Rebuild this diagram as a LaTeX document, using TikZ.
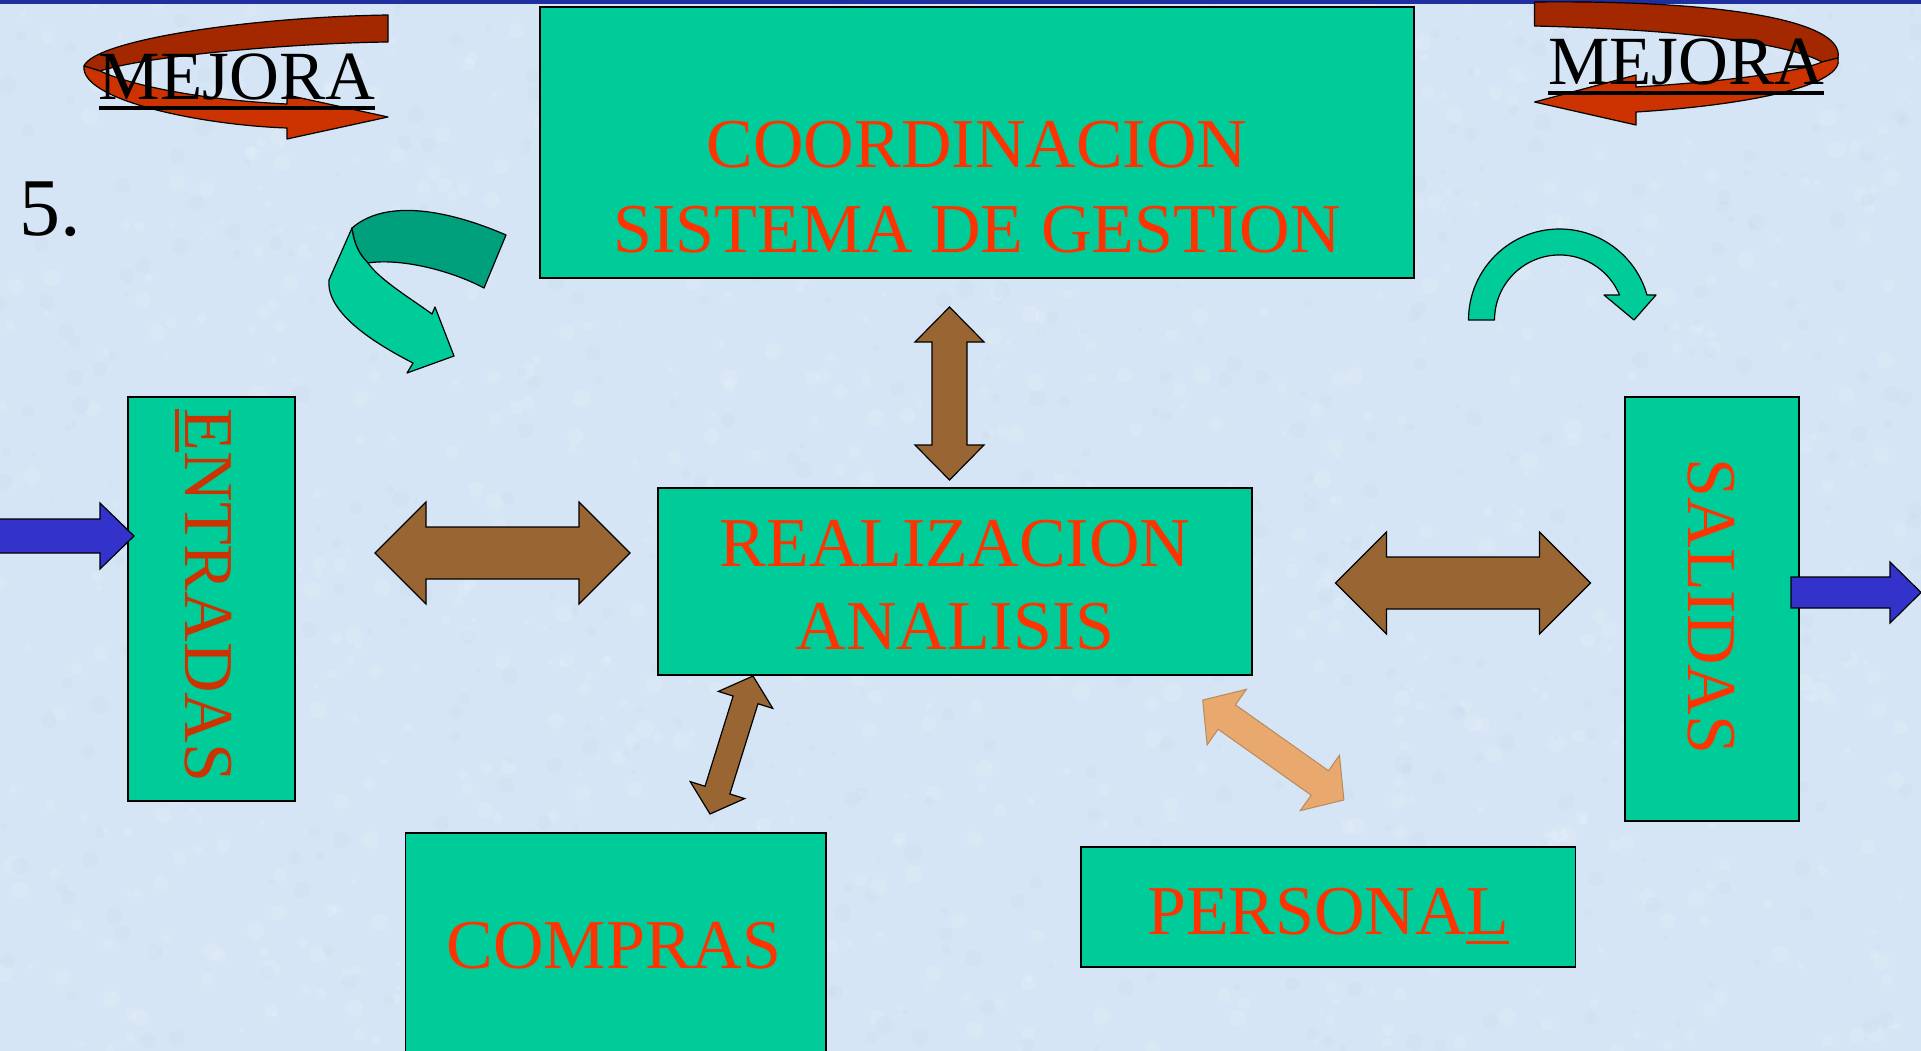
\documentclass[tikz,border=0pt]{standalone}
\usepackage{fontspec}
\setmainfont{Liberation Serif}
\usetikzlibrary{calc}
\definecolor{bg}{HTML}{D6E5F5}
\definecolor{bgdark}{HTML}{BCD2EC}
\definecolor{topbar}{HTML}{1F2F9F}
\definecolor{boxgreen}{HTML}{00CC99}
\definecolor{darkgreen}{HTML}{00A07C}
\definecolor{txtred}{HTML}{FF3300}
\definecolor{txtdark}{HTML}{CC3300}
\definecolor{brownarr}{HTML}{996633}
\definecolor{peach}{HTML}{E8A86E}
\definecolor{peachline}{HTML}{B88A5E}
\definecolor{bluearr}{HTML}{3333CC}
\definecolor{mejdark}{HTML}{A32800}
\definecolor{mejlight}{HTML}{CC3300}
\newcommand\ulx[1]{\setbox0\hbox{#1}\rlap{\rule[-10pt]{\wd0}{3.5pt}}\box0}
\tikzset{
  pics/dblarrow/.style n args={4}{code={
    \path[pic actions] ({-#1/2},0) -- ({-#1/2+#4},{#2}) -- ({-#1/2+#4},{#3}) -- ({#1/2-#4},{#3}) -- ({#1/2-#4},{#2}) -- ({#1/2},0) -- ({#1/2-#4},{-#2}) -- ({#1/2-#4},{-#3}) -- ({-#1/2+#4},{-#3}) -- ({-#1/2+#4},{-#2}) -- cycle;
  }},
  box/.style={draw=black, line width=1.5pt, fill=boxgreen, inner sep=0pt, outer sep=0pt},
  lbl/.style={font=\fontsize{70}{84}\selectfont, text=txtred, inner sep=0pt, anchor=base},
  mej/.style={font=\fontsize{69}{80}\selectfont, text=black, inner sep=0pt, anchor=base},
  brownarrow/.style={fill=brownarr, draw=black, line width=1.2pt, line join=miter},
  outl/.style={draw=black, line width=1.2pt, line join=round},
  bluearrow/.style={fill=bluearr, draw=black, line width=1.2pt, line join=miter}
}
\begin{document}
\begin{tikzpicture}[x=1pt,y=-1pt]
\useasboundingbox (0,0) rectangle (1921,1051);
\clip (0,0) rectangle (1921,1051);
% background
\fill[bg] (0,0) rectangle (1921,1051);
\pgfmathsetseed{42}
\foreach \i in {1,...,900}{\fill[white, opacity=0.12] ({rnd*1921},{rnd*1051}) circle ({2+rnd*7});}
\foreach \i in {1,...,600}{\fill[bgdark, opacity=0.15] ({rnd*1921},{rnd*1051}) circle ({2+rnd*7});}
\fill[topbar] (0,0) rectangle (1921,4);

% boxes
\node[box, minimum width=874pt, minimum height=271pt] (coord) at (977,142.5) {};
\node[box, minimum width=594pt, minimum height=187pt] (real) at (955,581.5) {};
\node[box, minimum width=167pt, minimum height=404pt] (ent) at (211.5,599) {};
\node[box, minimum width=174pt, minimum height=424pt] (sal) at (1712,609) {};
\node[box, minimum width=420.5pt, minimum height=227pt] (comp) at (615.75,946.5) {};
\node[box, minimum width=494.7pt, minimum height=120pt] (pers) at (1328.35,907) {};

% box texts
\node[lbl] (tc1) at (977,168) {COORDINACION};
\node[lbl] (tc2) at (977,252) {SISTEMA DE GESTION};
\node[lbl] (tr1) at (955,566) {REALIZACION};
\node[lbl] (tr2) at (955,649) {ANALISIS};
\node[lbl] (tcomp) at (614,968) {COMPRAS};
\node[lbl] (tpers) at (1328,934) {PERSONA\ulx{L}};
\node[lbl, text=txtdark, rotate=-90] (tent) at (185,595.5) {\ulx{E}NTRADAS};
\node[lbl, rotate=-90] (tsal) at (1688,606.5) {SALIDAS};

% double arrows
\pic[brownarrow, rotate=90] (a1) at (949.5,393.5) {dblarrow={173}{34.5}{17.5}{35}};
\pic[brownarrow] (a2) at (502.5,553) {dblarrow={255}{51}{26}{51}};
\pic[brownarrow] (a3) at (1463,583) {dblarrow={255}{51}{26}{51}};
\pic[brownarrow, rotate=72.7] (a4) at (731.5,745) {dblarrow={144.5}{28.5}{13}{25}};
\pic[fill=peach, draw=peachline, line width=1pt, rotate=-35.3] (a5) at (1273.3,750) {dblarrow={173}{34}{15}{29.5}};

% blue arrows
\filldraw[bluearrow] (-3,519) -- (100,519) -- (100,503) -- (134,536) -- (100,569) -- (100,553) -- (-3,553) -- cycle;
\filldraw[bluearrow] (1791,577) -- (1890,577) -- (1890,562) -- (1921,592.5) -- (1890,623) -- (1890,608) -- (1791,608) -- cycle;

% teal ribbon arrow (top left)
\filldraw[fill=darkgreen, outl] (506,235) .. controls (460,215) and (390,195) .. (352,228) .. controls (354,245) and (360,255) .. (368,263) .. controls (400,258) and (450,270) .. (484,288) -- cycle;
\filldraw[fill=boxgreen, outl] (352,228) -- (329,280) .. controls (326,312) and (372,342) .. (413,363) -- (407,373) -- (454,356) -- (435,307) -- (432,314) .. controls (410,298) and (380,280) .. (368,263) .. controls (360,255) and (354,245) .. (352,228) -- cycle;

% teal arc arrow (top right)
\filldraw[fill=boxgreen, outl] (1468.5,320) arc[start angle=180, end angle=344, radius=91] -- (1656,295) -- (1634,320) -- (1604,295) -- (1619.5,295) arc[start angle=337.4, end angle=180, radius=65] -- cycle;

% MEJORA arrows
\filldraw[fill=mejdark, outl] (388,15) .. controls (250,17) and (95,40) .. (84,66) -- (100,71) .. controls (150,55) and (300,43) .. (388,42) -- cycle;
\filldraw[fill=mejlight, outl] (84,66) .. controls (80,100) and (200,125) .. (287,128) -- (287,139) -- (388,117) -- (287,95) -- (287,104) .. controls (200,100) and (130,85) .. (100,71) -- cycle;
\filldraw[fill=mejdark, outl] (1534.5,2) .. controls (1720,0) and (1845,20) .. (1838,58) -- (1822,62) .. controls (1790,45) and (1700,30) .. (1534.5,26) -- cycle;
\filldraw[fill=mejlight, outl] (1838,58) .. controls (1845,85) and (1750,105) .. (1636,112) -- (1636,125) -- (1534.5,102) -- (1636,75) -- (1636,87) .. controls (1720,82) and (1800,72) .. (1822,62) -- cycle;

\node[mej] (mej1) at (237,100) {\ulx{MEJORA}};
\node[mej] (mej2) at (1686,85) {\ulx{MEJORA}};

% number
\node[font=\fontsize{82}{90}\selectfont, inner sep=0pt, anchor=base west] (num) at (19,235) {5.};
\end{tikzpicture}
\end{document}
